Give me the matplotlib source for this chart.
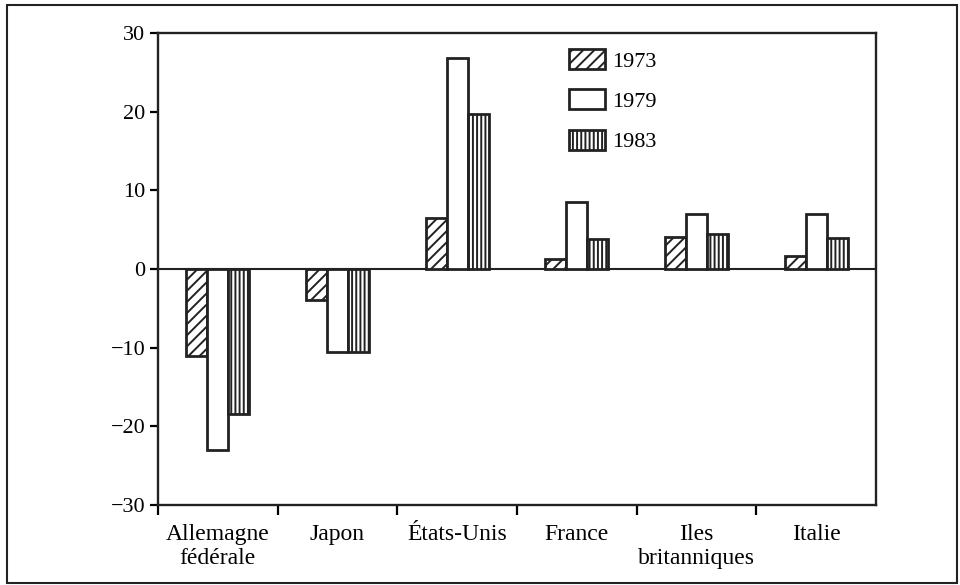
import matplotlib.pyplot as plt
import numpy as np
from matplotlib.patches import Rectangle

plt.rcParams["font.family"] = ["Liberation Serif", "DejaVu Serif"]
plt.rcParams["hatch.linewidth"] = 1.4

countries = ["Allemagne\nfédérale", "Japon", "États-Unis", "France",
             "Iles\nbritanniques", "Italie"]
years = ["1973", "1979", "1983"]
v1973 = [-11.0, -3.9, 6.5, 1.3, 4.1, 1.7]
v1979 = [-23.0, -10.5, 26.8, 8.5, 7.0, 7.0]
v1983 = [-18.4, -10.5, 19.7, 3.8, 4.4, 3.9]
hatches = ["///", "", "||||"]

fig = plt.figure(figsize=(9.6, 5.85), dpi=100)
ax = fig.add_axes([158 / 960, 1 - 505 / 585, 718 / 960, 472 / 585])

x = np.arange(len(countries))
w = 0.175
for i, (vals, yr) in enumerate(zip([v1973, v1979, v1983], years)):
    ax.bar(x + (i - 1) * w, vals, width=w, color="white", edgecolor="#222222",
           linewidth=2.0, hatch=hatches[i], label=yr, zorder=3)

ax.axhline(0, color="#222222", linewidth=1.5, zorder=2)
ax.set_xlim(-0.5, 5.5)
ax.set_ylim(-30, 30)
ax.set_yticks([-30, -20, -10, 0, 10, 20, 30])
ax.set_yticklabels(["\u221230", "\u221220", "\u221210", "0", "10", "20", "30"])
ax.set_xticks(np.arange(-0.5, 5.0, 1.0))
ax.set_xticklabels([])
ax.set_xticks(x, minor=True)
ax.set_xticklabels(countries, minor=True, linespacing=1.15)
ax.tick_params(axis="x", which="minor", length=0, pad=14, labelsize=17)
ax.tick_params(axis="x", which="major", length=7, width=1.6, direction="out")
ax.tick_params(axis="y", length=6, width=1.6, direction="out", labelsize=16, pad=3)
for sp in ax.spines.values():
    sp.set_linewidth(1.7)
    sp.set_color("#222222")

ax.legend(loc="upper left", bbox_to_anchor=(0.56, 0.985), frameon=False,
          fontsize=16, handlelength=1.6, handleheight=1.0, labelspacing=0.8,
          handletextpad=0.35, borderaxespad=0)

fig.patches.append(Rectangle((7 / 960, 2 / 585), 950 / 960, 578 / 585,
                             transform=fig.transFigure, fill=False,
                             edgecolor="#222222", linewidth=1.5))

fig.savefig("out.png", dpi=100)
